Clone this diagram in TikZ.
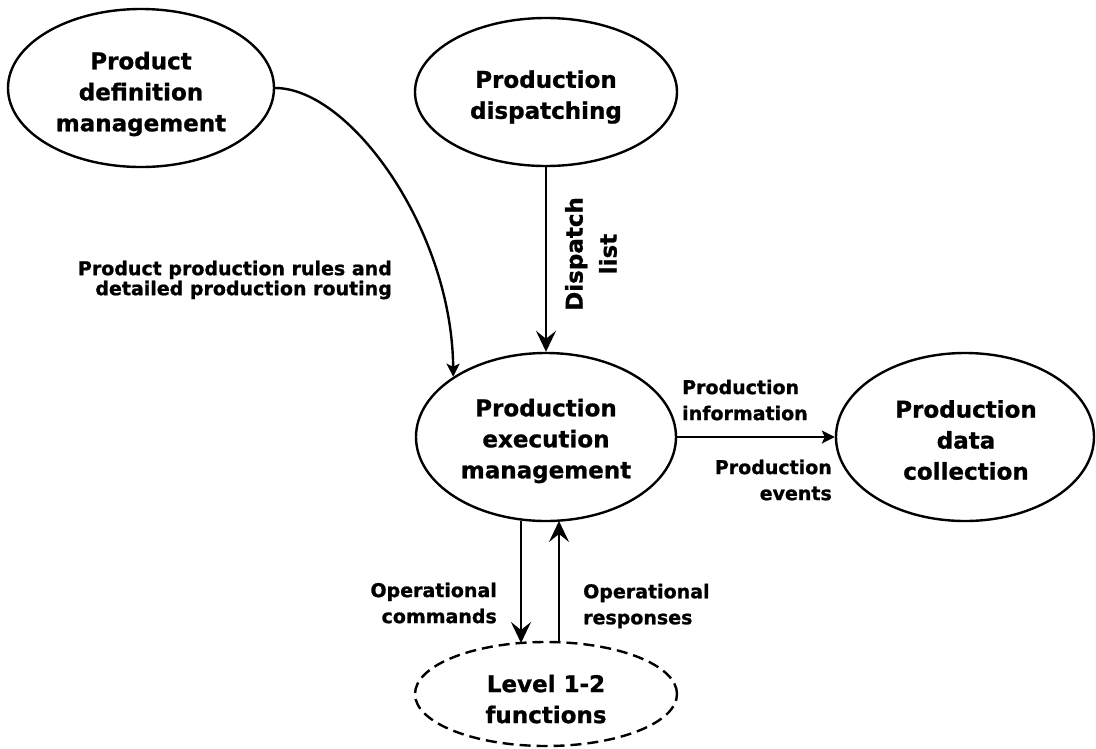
\documentclass[tikz,border=0pt]{standalone}
\usepackage{fontspec}
\setmainfont{DejaVu Sans}[BoldFeatures={FakeBold=1}]
\usetikzlibrary{arrows.meta,shapes.geometric}
\begin{document}
\begin{tikzpicture}[x=1pt,y=-1pt,
  proc/.style={draw,line width=2.4pt,ellipse,inner sep=0pt},
  ptext/.style={align=center,inner sep=0pt,font=\fontsize{23}{31}\selectfont\bfseries},
  lbl/.style={font=\fontsize{19}{26}\selectfont\bfseries,inner sep=0pt},
  bigtip/.style={line width=2.4pt,-{Stealth[length=21pt,width=20pt,inset=8pt]}},
  smalltip/.style={line width=2.4pt,-{Stealth[length=13pt,width=13pt,inset=3pt]}}]
\useasboundingbox (0,0) rectangle (1096,748);
% shapes
\node[proc,minimum width=266pt,minimum height=158pt] (pdm) at (141,88) {};
\node[proc,minimum width=262pt,minimum height=148pt] (pd) at (546,92) {};
\node[proc,minimum width=260pt,minimum height=168pt] (pem) at (546,437) {};
\node[proc,minimum width=258pt,minimum height=168pt] (pdc) at (965,437) {};
\node[proc,dashed,dash pattern=on 11pt off 6pt,minimum width=262pt,minimum height=104pt] (lvl) at (546,694) {};
% texts
\node[ptext] (pdmt) at (141,94) {Product\\definition\\management};
\node[ptext] (pdt) at (546,97) {Production\\dispatching};
\node[ptext] (pemt) at (546,441) {Production\\execution\\management};
\node[ptext] (pdct) at (966,440) {Production\\data\\collection};
\node[ptext] (lvlt) at (546,699) {Level 1-2\\functions};

% connectors
\draw[smalltip] (pdm.east) .. controls (350,88) and (452,230) .. (pem.147);
\draw[bigtip] (pd.south) -- (pem.north);
\draw[smalltip] (pem.east) -- (pdc.west);
\coordinate (cmdTop) at (521,521);
\coordinate (cmdBot) at (521,643);
\coordinate (rspTop) at (559,521);
\coordinate (rspBot) at (559,643);
\draw[bigtip] (cmdTop) -- (cmdBot);
\draw[bigtip] (rspBot) -- (rspTop);

% labels
\node[lbl,align=right,anchor=east,font=\fontsize{19}{20}\selectfont\bfseries] (l1) at (392,280) {Product production rules and\\detailed production routing};
\node[ptext,font=\fontsize{23}{34}\selectfont\bfseries,rotate=90] (l2) at (591,254) {Dispatch\\list};
\node[lbl,align=left,anchor=west] (l3) at (682,400) {Production\\information};
\node[lbl,align=right,anchor=east] (l4) at (832,480) {Production\\events};
\node[lbl,align=right,anchor=east] (l5) at (497,603) {Operational\\commands};
\node[lbl,align=left,anchor=west] (l6) at (583,606) {Operational\\responses};
\end{tikzpicture}
\end{document}
